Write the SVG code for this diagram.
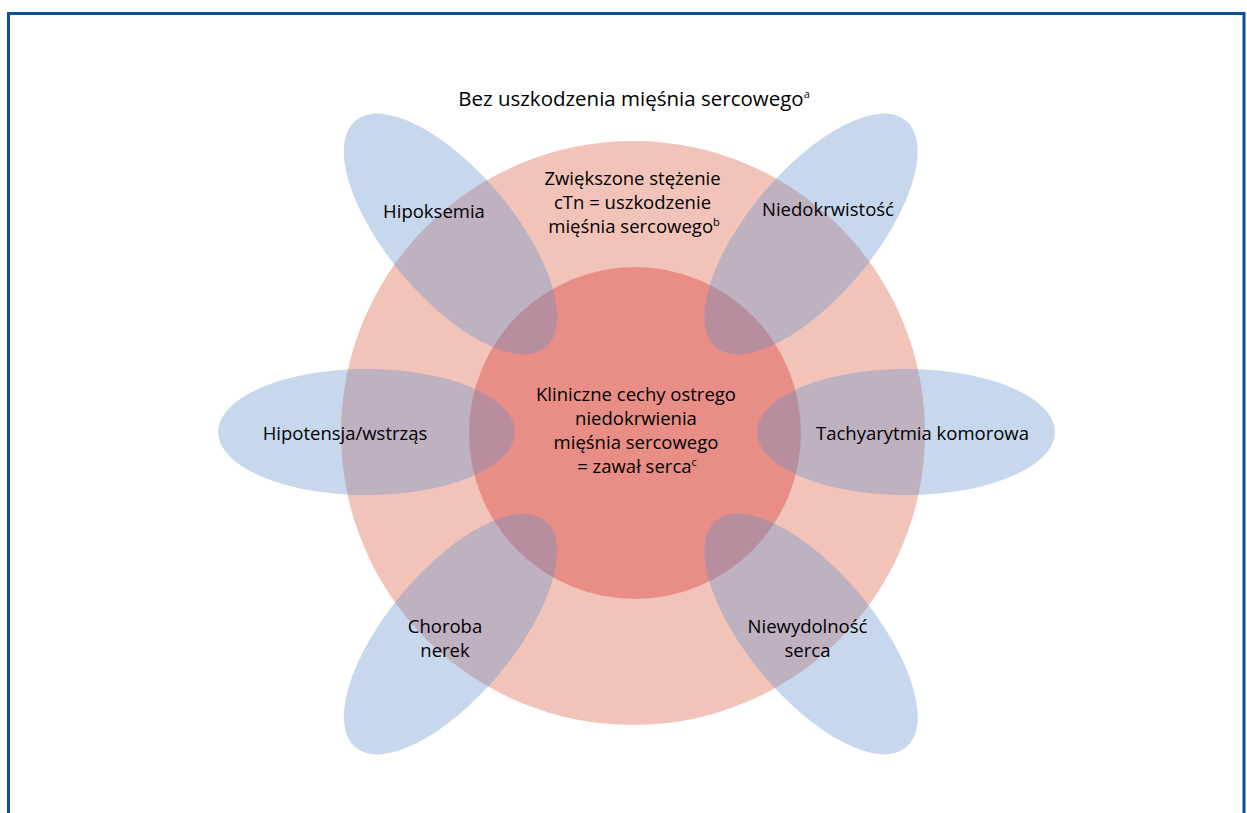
<svg xmlns="http://www.w3.org/2000/svg" width="1247" height="813" viewBox="0 0 1247 813">
<style>
.t{font-family:"Open Sans","Noto Sans","Liberation Sans",sans-serif;font-size:18.5px;fill:#000000;text-anchor:middle}
.title{font-size:20.5px}
.sup{font-size:11px}
.petal{fill:#5f90ce;fill-opacity:0.35}
</style>
<rect x="0" y="0" width="1247" height="813" fill="#ffffff"/>
<path d="M8.5,813 V13.5 H1244 V813" fill="none" stroke="#0b4f96" stroke-width="3"/>
<g id="outer-circle"><circle cx="633" cy="433" r="292" fill="#f2c3b9"/></g>
<g id="inner-circle"><circle cx="635" cy="433" r="166" fill="#e98e86"/></g>
<g id="hipoksemia"><ellipse class="petal" cx="450.5" cy="234" rx="148" ry="63" transform="rotate(50 450.5 234)"/><text class="t" x="434" y="218">Hipoksemia</text></g>
<g id="niedokrwistosc"><ellipse class="petal" cx="811" cy="234" rx="148" ry="63" transform="rotate(-50 811 234)"/><text class="t" x="828" y="216">Niedokrwistość</text></g>
<g id="hipotensja"><ellipse class="petal" cx="366.5" cy="432" rx="148.5" ry="63"/><text class="t" x="345" y="440">Hipotensja/wstrząs</text></g>
<g id="tachyarytmia"><ellipse class="petal" cx="906" cy="432" rx="149" ry="63"/><text class="t" x="922.5" y="440">Tachyarytmia komorowa</text></g>
<g id="choroba-nerek"><ellipse class="petal" cx="450.5" cy="634" rx="148" ry="63" transform="rotate(-50 450.5 634)"/><text class="t" x="445" y="633">Choroba</text><text class="t" x="445" y="657">nerek</text></g>
<g id="niewydolnosc"><ellipse class="petal" cx="811" cy="634" rx="148" ry="63" transform="rotate(50 811 634)"/><text class="t" x="807.5" y="633">Niewydolność</text><text class="t" x="807.5" y="657">serca</text></g>
<g id="label-outer-top"><text class="t title" x="634" y="106">Bez uszkodzenia mięśnia sercowego<tspan class="sup" dy="-8">a</tspan></text></g>
<g id="label-ctn"><text class="t" x="632.5" y="185">Zwiększone stężenie</text><text class="t" x="632.5" y="209">cTn = uszkodzenie</text><text class="t" x="634" y="233">mięśnia sercowego<tspan class="sup" dy="-7">b</tspan></text></g>
<g id="label-zawal"><text class="t" x="636" y="401">Kliniczne cechy ostrego</text><text class="t" x="636" y="425">niedokrwienia</text><text class="t" x="636" y="449">mięśnia sercowego</text><text class="t" x="637" y="473">= zawał serca<tspan class="sup" dy="-7">c</tspan></text></g>
<g id="connectors"/>
</svg>
